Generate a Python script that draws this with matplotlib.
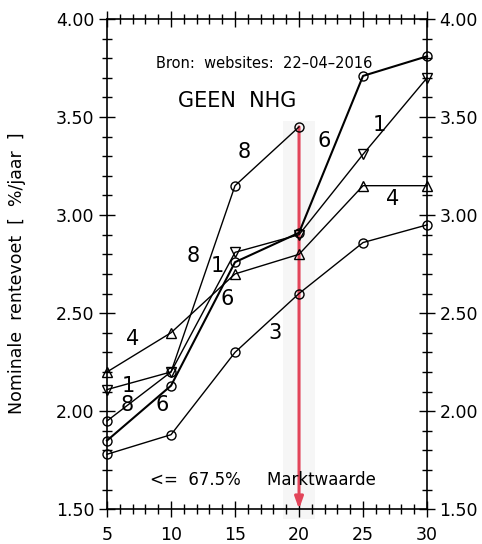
import matplotlib
matplotlib.use("Agg")
import matplotlib.pyplot as plt
from matplotlib.ticker import MultipleLocator, FormatStrFormatter

# Looptijd (jaren rentevast)
years = [5, 10, 15, 20, 25, 30]

# Nominale rente per aanbieder (%/jaar)
rate_1 = [2.11, 2.20, 2.81, 2.90, 3.31, 3.70]
rate_3 = [1.78, 1.88, 2.30, 2.60, 2.86, 2.95]
rate_4 = [2.20, 2.40, 2.70, 2.80, 3.15, 3.15]
rate_6 = [1.85, 2.13, 2.76, 2.91, 3.71, 3.81]
rate_8 = [1.95, 2.20, 3.15, 3.45]

series_names = ["1", "3", "4", "6", "8"]
market_year = 20
market_rate = 3.45

fig = plt.figure(figsize=(4.82, 5.44), dpi=100)
ax = fig.add_axes([0.222, 0.064, 0.664, 0.901])

line_kw = dict(color="black", markerfacecolor="none", markeredgecolor="black",
               markeredgewidth=1.0, clip_on=False, zorder=3)
ax.plot(years, rate_1, marker="v", markersize=7, lw=1.0, **line_kw)
ax.plot(years, rate_3, marker="o", markersize=6.5, lw=1.0, **line_kw)
ax.plot(years, rate_4, marker="^", markersize=7, lw=1.0, **line_kw)
ax.plot(years, rate_6, marker="o", markersize=6.5, lw=1.5, **line_kw)
ax.plot(years[:len(rate_8)], rate_8, marker="o", markersize=6.5, lw=1.0, **line_kw)

# Series labels placed along the curves
label_spots = {
    "8": [(6.6, 2.03), (11.7, 2.79), (15.7, 3.32)],
    "1": [(6.7, 2.13), (13.6, 2.74), (26.3, 3.46)],
    "6": [(9.3, 2.03), (14.4, 2.57), (22.0, 3.38)],
    "4": [(7.0, 2.37), (27.3, 3.08)],
    "3": [(18.1, 2.40)],
}
for name in series_names:
    for (lx, ly) in label_spots[name]:
        ax.text(lx, ly, name, fontsize=15, ha="center", va="center",
                color="black", zorder=4)

# Market value marker: faint band and red arrow down to the axis
ax.axvspan(market_year - 1.25, market_year + 1.25, ymin=-0.02,
           ymax=(market_rate + 0.03 - 1.5) / 2.5, color="#f6f6f6", zorder=1,
           lw=0, clip_on=False)
ax.annotate("", xy=(market_year, 1.50), xytext=(market_year, market_rate),
            arrowprops=dict(arrowstyle="-|>,head_length=0.7,head_width=0.25",
                            color="#e2455a", lw=2.2, shrinkA=0, shrinkB=0),
            zorder=2)

ax.text(17.3, 3.775, "Bron:  websites:  22–04–2016", fontsize=10.5,
        ha="center", va="center")
ax.text(15.2, 3.58, "GEEN  NHG", fontsize=15, ha="center", va="center")
ax.text(17.2, 1.65, "<=  67.5%     Marktwaarde", fontsize=12,
        ha="center", va="center")

ax.set_xlim(5, 30)
ax.set_ylim(1.5, 4.0)
ax.xaxis.set_major_locator(MultipleLocator(5))
ax.xaxis.set_minor_locator(MultipleLocator(1))
ax.yaxis.set_major_locator(MultipleLocator(0.5))
ax.yaxis.set_minor_locator(MultipleLocator(0.1))
ax.yaxis.set_major_formatter(FormatStrFormatter("%.2f"))

ax.tick_params(which="both", direction="inout", top=True, right=True,
               labelright=True, width=1.0, colors="black", labelsize=12.5)
ax.tick_params(which="major", length=12)
ax.tick_params(which="minor", length=7)
ax.tick_params(axis="x", pad=6)
ax.tick_params(axis="y", pad=3)
for sp in ax.spines.values():
    sp.set_linewidth(1.2)

fig.text(0.035, 0.498, "Nominale  rentevoet  [  %/jaar  ]", fontsize=12.5,
         rotation=90, ha="center", va="center")

fig.savefig("out.png", dpi=100, facecolor="white")
